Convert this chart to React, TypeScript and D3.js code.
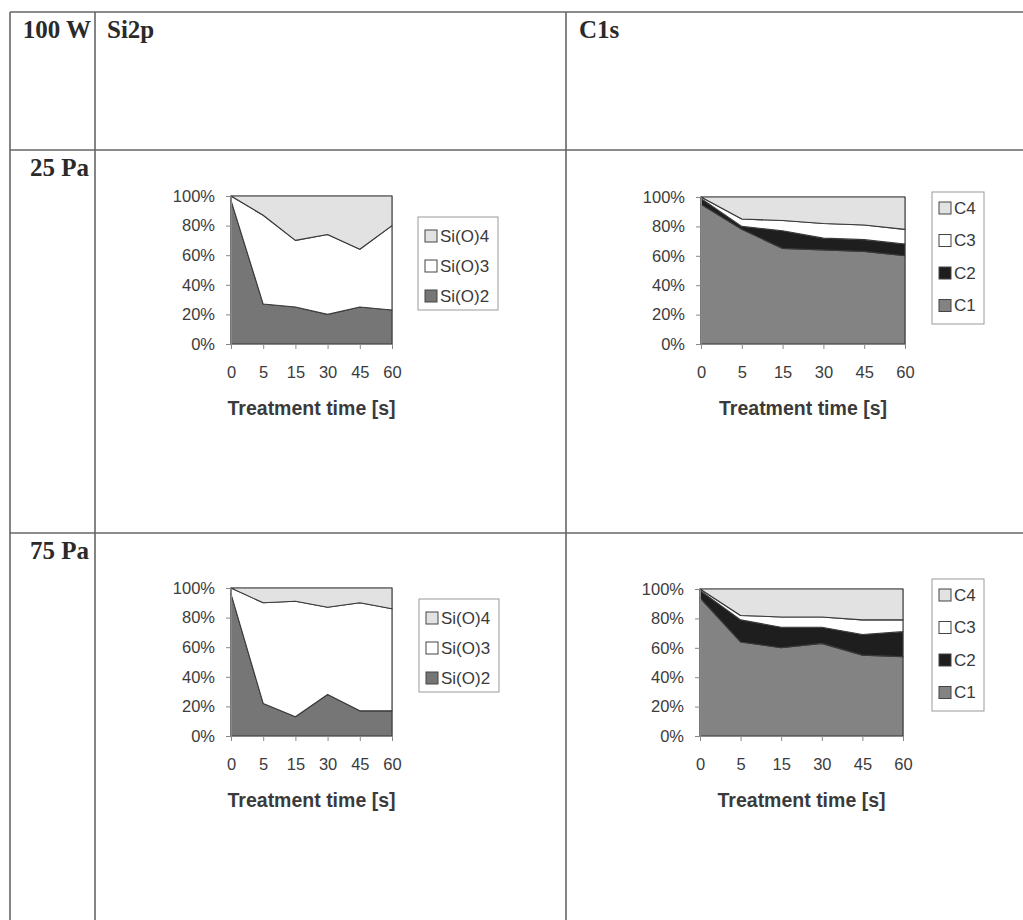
import React, { useEffect, useRef } from 'react';
import * as d3 from 'd3';

// categorie (tempo di trattamento) e tick dell'asse y
const times = ['0', '5', '15', '30', '45', '60'];
const yTicks = [0, 0.2, 0.4, 0.6, 0.8, 1];

// Si2p - 25 Pa (%)
const si25SiO2 = [97, 27, 25, 20, 25, 23];
const si25SiO3 = [3, 60, 45, 54, 39, 57];
const si25SiO4 = [0, 13, 30, 26, 36, 20];

// Si2p - 75 Pa (%)
const si75SiO2 = [96, 22, 13, 28, 17, 17];
const si75SiO3 = [4, 68, 78, 59, 73, 69];
const si75SiO4 = [0, 10, 9, 13, 10, 14];

// C1s - 25 Pa (%)
const c25C1 = [95, 78, 65, 64, 63, 60];
const c25C2 = [4, 2, 12, 8, 8, 8];
const c25C3 = [1, 5, 7, 10, 10, 10];
const c25C4 = [0, 15, 16, 18, 19, 22];

// C1s - 75 Pa (%)
const c75C1 = [94, 64, 60, 63, 55, 54];
const c75C2 = [5, 15, 14, 11, 14, 17];
const c75C3 = [1, 3, 7, 7, 10, 8];
const c75C4 = [0, 18, 19, 19, 21, 21];

const rowLabels = ['100 W', '25 Pa', '75 Pa'];
const colLabels = ['Si2p', 'C1s'];
const axisTitle = 'Treatment time [s]';

const SANS = '"Liberation Sans", Arial, sans-serif';
const SERIF = '"Liberation Serif", "Times New Roman", serif';

const drawPanel = (svg: any, p: any) => {
  const x = d3.scalePoint<string>().domain(times).range([p.x0, p.x1]).padding(0);
  const y = d3.scaleLinear().domain([0, 1]).range([p.y1, p.y0]);

  const rows = times.map((t, i) => {
    const r: any = { t };
    p.series.forEach((s: any) => { r[s.name] = s.values[i] / 100; });
    return r;
  });
  const layers = d3.stack().keys(p.series.map((s: any) => s.name))(rows);

  const area = d3.area<any>()
    .x(d => x(d.data.t) as number)
    .y0(d => y(d[0]))
    .y1(d => y(d[1]));

  const g = svg.append('g');

  g.append('rect')
    .attr('x', p.x0).attr('y', p.y0)
    .attr('width', p.x1 - p.x0).attr('height', p.y1 - p.y0)
    .attr('fill', '#fff').attr('stroke', '#8a8a8a');

  g.selectAll('path.layer')
    .data(layers)
    .enter().append('path')
    .attr('class', 'layer')
    .attr('d', area)
    .attr('fill', (d: any, i: number) => p.series[i].color)
    .attr('stroke', '#3a3a3a')
    .attr('stroke-width', 1.1)
    .attr('stroke-linejoin', 'round');

  const yAxis = g.append('g')
    .attr('transform', `translate(${p.x0},0)`)
    .call(d3.axisLeft(y).tickValues(yTicks).tickFormat(d3.format('.0%')).tickSize(5).tickSizeOuter(0).tickPadding(11));

  const xAxis = g.append('g')
    .attr('transform', `translate(0,${p.y1})`)
    .call(d3.axisBottom(x).tickSize(5).tickSizeOuter(0).tickPadding(17));

  [yAxis, xAxis].forEach(a => {
    a.attr('font-family', SANS).attr('font-size', 16.5);
    a.select('.domain').attr('stroke', '#888');
    a.selectAll('line').attr('stroke', '#888');
    a.selectAll('text').attr('fill', '#3c3c3c');
  });

  g.append('text')
    .attr('x', (p.x0 + p.x1) / 2)
    .attr('y', p.y1 + 71)
    .attr('text-anchor', 'middle')
    .attr('font-family', SANS)
    .attr('font-weight', 'bold')
    .attr('font-size', 19.5)
    .attr('fill', '#3a3a3a')
    .text(axisTitle);

  // legenda (ordine inverso, come in Excel)
  const lg = g.append('g').attr('transform', `translate(${p.lx},${p.ly})`);
  lg.append('rect')
    .attr('width', p.lw).attr('height', p.lh)
    .attr('fill', '#fff').attr('stroke', '#9a9a9a');
  [...p.series].reverse().forEach((s: any, i: number) => {
    const cy = p.lfirst + i * p.lstep;
    lg.append('rect')
      .attr('x', 7).attr('y', cy - 6)
      .attr('width', 12).attr('height', 12)
      .attr('fill', s.color).attr('stroke', '#444');
    lg.append('text')
      .attr('x', 22).attr('y', cy)
      .attr('dy', '0.35em')
      .attr('font-family', SANS)
      .attr('font-size', 17)
      .attr('fill', '#3a3a3a')
      .text(s.name);
  });
};

const App = () => {
  const ref = useRef<SVGSVGElement>(null);

  useEffect(() => {
    const svg = d3.select(ref.current);
    svg.selectAll('*').remove();

    // tabella
    const lineColor = '#666';
    [12, 150, 533].forEach(yy => {
      svg.append('line').attr('x1', 10).attr('x2', 1023).attr('y1', yy).attr('y2', yy)
        .attr('stroke', lineColor).attr('stroke-width', 1.6);
    });
    [10, 95, 566].forEach(xx => {
      svg.append('line').attr('x1', xx).attr('x2', xx).attr('y1', 12).attr('y2', 920)
        .attr('stroke', lineColor).attr('stroke-width', 1.6);
    });

    const head = (txt: string, x: number, y: number, anchor: string) => {
      svg.append('text')
        .attr('x', x).attr('y', y)
        .attr('text-anchor', anchor)
        .attr('font-family', SERIF)
        .attr('font-weight', 'bold')
        .attr('font-size', 25)
        .attr('fill', '#2a2a2a')
        .text(txt);
    };
    head(rowLabels[0], 91, 38, 'end');
    head(rowLabels[1], 89, 176, 'end');
    head(rowLabels[2], 89, 559, 'end');
    head(colLabels[0], 107, 38, 'start');
    head(colLabels[1], 579, 38, 'start');

    const dark = '#767676';
    const mid = '#838383';
    const light = '#e2e2e2';
    const black = '#1e1e1e';

    const siLegend = { lw: 80, lh: 93, lfirst: 19, lstep: 30 };
    const cLegend = { lw: 52, lh: 132, lfirst: 16, lstep: 32.5 };

    drawPanel(svg, {
      x0: 231, x1: 392, y0: 196, y1: 344, lx: 418, ly: 217, ...siLegend,
      series: [
        { name: 'Si(O)2', values: si25SiO2, color: dark },
        { name: 'Si(O)3', values: si25SiO3, color: '#fff' },
        { name: 'Si(O)4', values: si25SiO4, color: light },
      ],
    });
    drawPanel(svg, {
      x0: 701, x1: 905, y0: 197, y1: 344, lx: 932, ly: 192, ...cLegend,
      series: [
        { name: 'C1', values: c25C1, color: mid },
        { name: 'C2', values: c25C2, color: black },
        { name: 'C3', values: c25C3, color: '#fff' },
        { name: 'C4', values: c25C4, color: light },
      ],
    });
    drawPanel(svg, {
      x0: 231, x1: 392, y0: 588, y1: 736, lx: 419, ly: 599, ...siLegend,
      series: [
        { name: 'Si(O)2', values: si75SiO2, color: dark },
        { name: 'Si(O)3', values: si75SiO3, color: '#fff' },
        { name: 'Si(O)4', values: si75SiO4, color: light },
      ],
    });
    drawPanel(svg, {
      x0: 700, x1: 903, y0: 589, y1: 736, lx: 932, ly: 579, ...cLegend,
      series: [
        { name: 'C1', values: c75C1, color: mid },
        { name: 'C2', values: c75C2, color: black },
        { name: 'C3', values: c75C3, color: '#fff' },
        { name: 'C4', values: c75C4, color: light },
      ],
    });
  }, []);

  return (
    <svg
      ref={ref}
      width={1023}
      height={920}
      style={{ position: 'absolute', left: 0, top: 0, background: '#fff' }}
    />
  );
};

export default App;
